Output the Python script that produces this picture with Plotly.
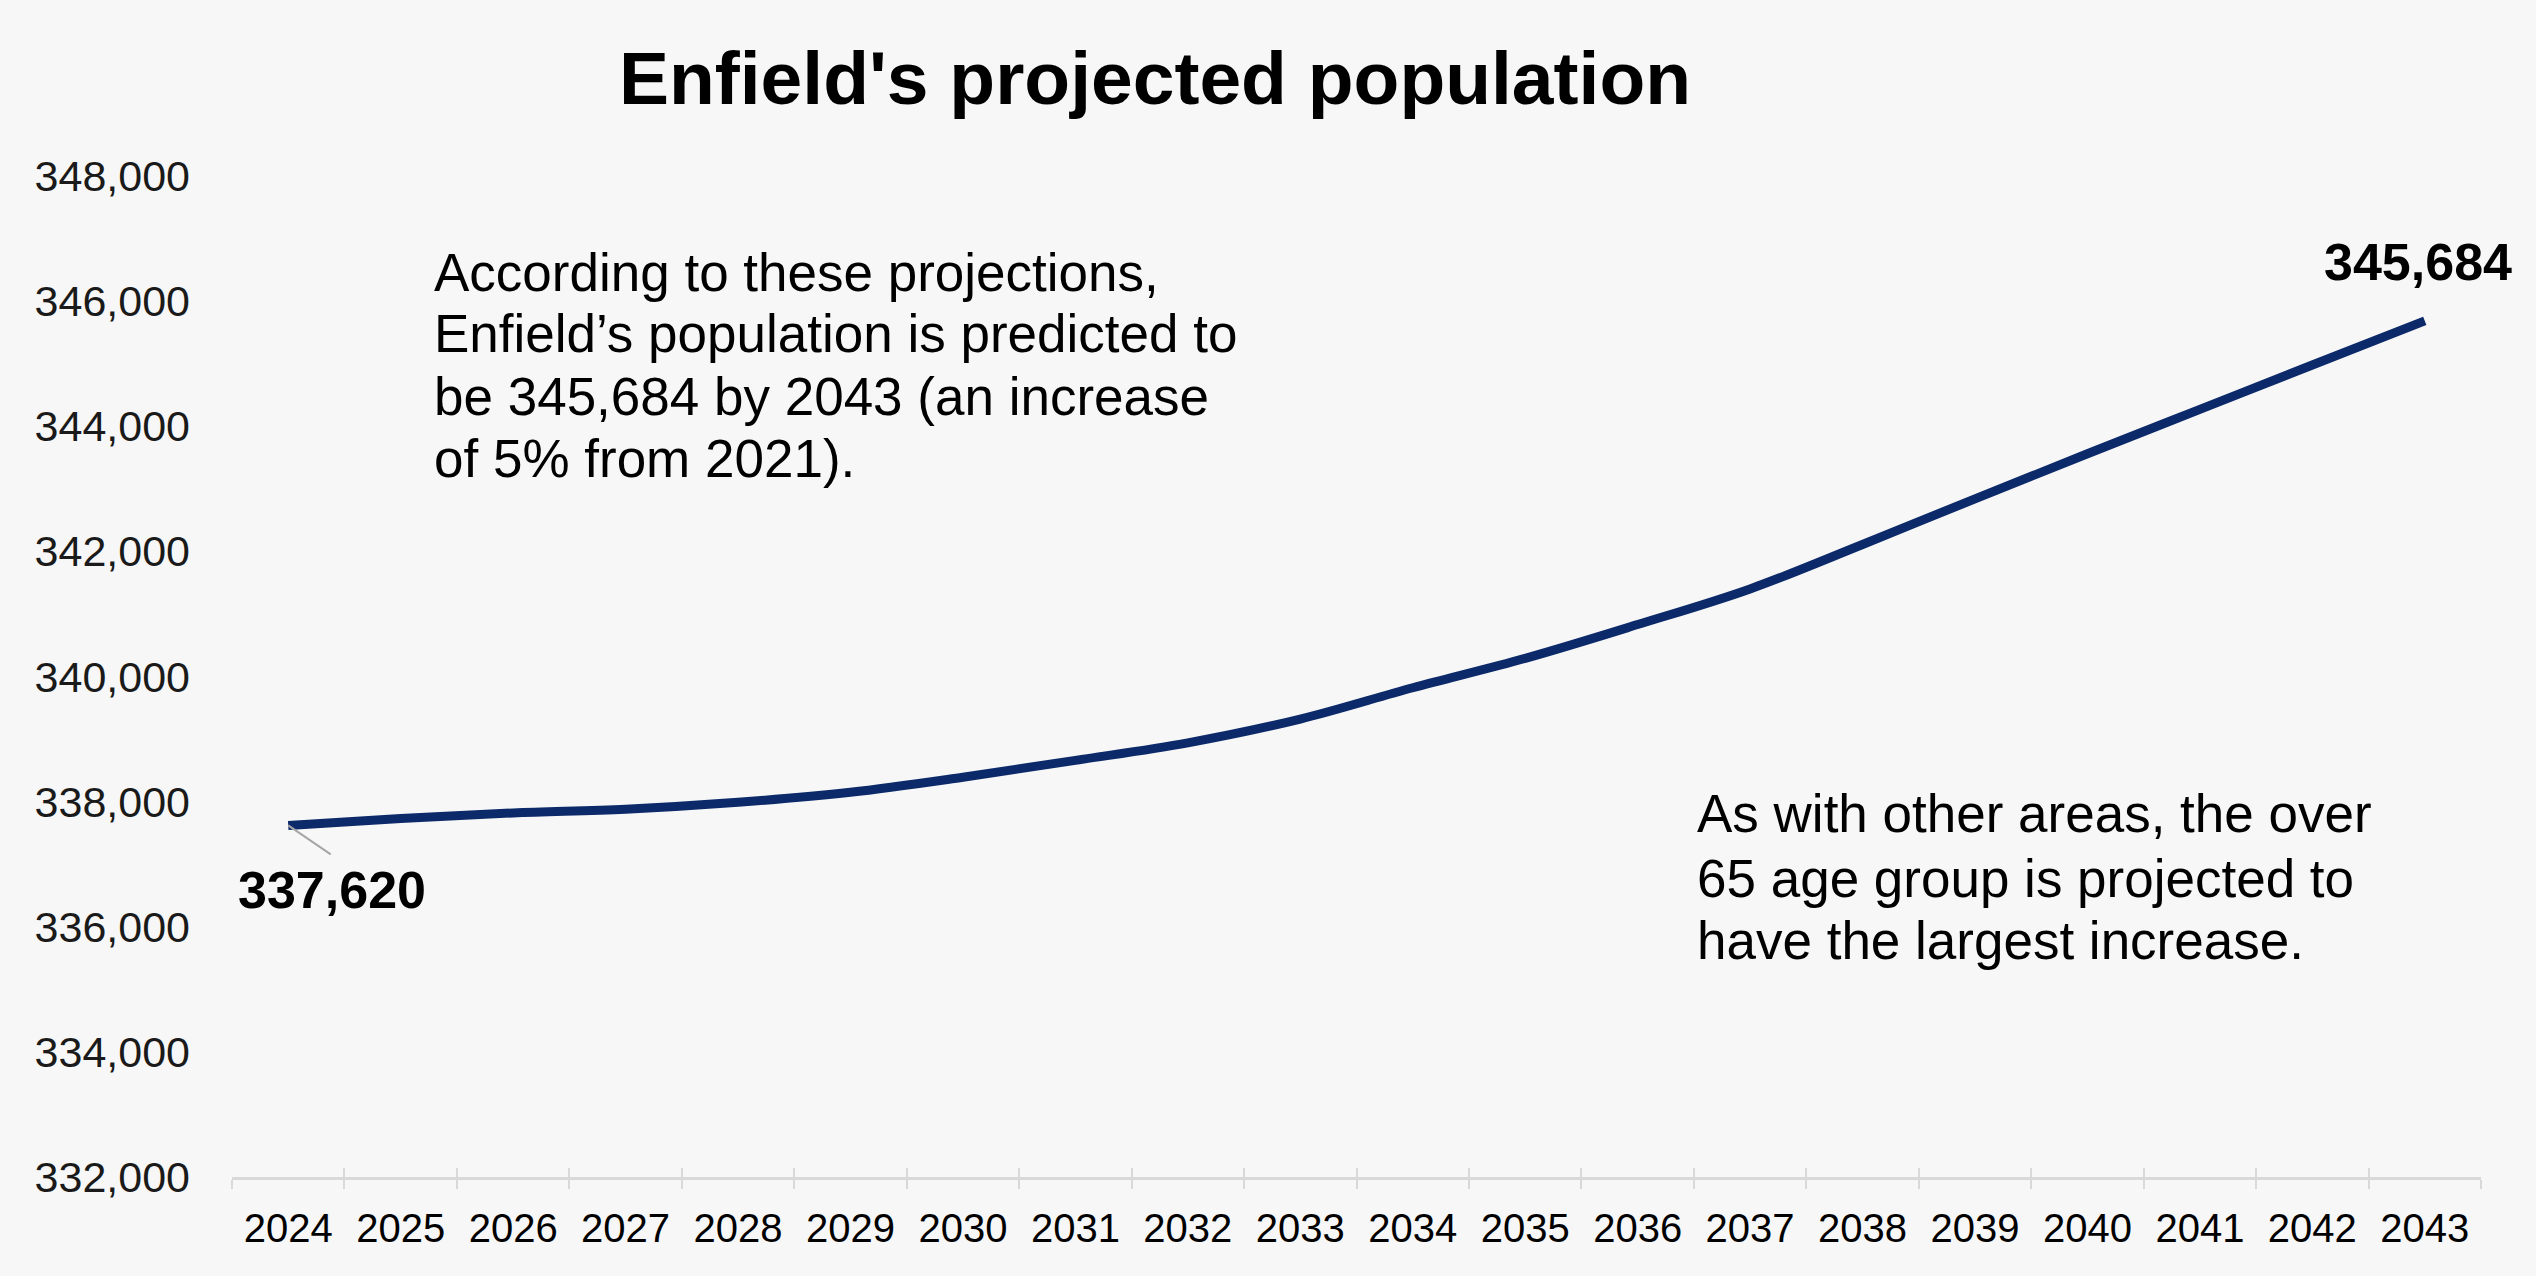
import plotly.graph_objects as go

# Projected population, Enfield
years = ["2024", "2025", "2026", "2027", "2028", "2029", "2030", "2031", "2032", "2033",
         "2034", "2035", "2036", "2037", "2038", "2039", "2040", "2041", "2042", "2043"]
population = [337620, 337730, 337820, 337880, 337990, 338150, 338390, 338660, 338940, 339320,
              339820, 340290, 340830, 341400, 342110, 342840, 343560, 344270, 344980, 345684]

y_ticks = [332000, 334000, 336000, 338000, 340000, 342000, 344000, 346000, 348000]
y_tick_text = [f"{v:,}" for v in y_ticks]

title_text = "Enfield's projected population"
note_left = [
    "According to these projections,",
    "Enfield\u2019s population is predicted to",
    "be 345,684 by 2043 (an increase",
    "of 5% from 2021).",
]
note_right = [
    "As with other areas, the over",
    "65 age group is projected to",
    "have the largest increase.",
]

BG = "#f7f7f7"
LINE = "#0c2a6a"
AXIS = "#d9d9d9"
FONT = "Liberation Sans, Arial, sans-serif"

W, H = 2536, 1276
ML, MR, MT, MB = 232, 55, 176, 99
plot_w = W - ML - MR
plot_h = H - MT - MB


def px_x(x):
    return (x - ML) / plot_w


def px_y(y):
    return (H - MB - y) / plot_h


fig = go.Figure()
fig.add_trace(go.Scatter(
    x=years, y=population, mode="lines",
    line=dict(color=LINE, width=9, shape="spline", smoothing=1.0),
    hoverinfo="x+y", showlegend=False,
))
# companion trace on the overlay axis that carries the upward half of the tick marks
fig.add_trace(go.Scatter(
    x=years, y=population, mode="lines", xaxis="x2",
    line=dict(color="rgba(0,0,0,0)", width=0),
    hoverinfo="skip", showlegend=False,
))

xaxis_common = dict(
    type="category", categoryorder="array", categoryarray=years,
    range=[-0.5, len(years) - 0.5],
    tickson="boundaries", tickcolor=AXIS, tickwidth=2,
    showgrid=False, zeroline=False,
)

fig.update_layout(
    width=W, height=H,
    margin=dict(l=ML, r=MR, t=MT, b=MB, pad=0),
    paper_bgcolor=BG, plot_bgcolor=BG,
    font=dict(family=FONT, color="#000000"),
    title=dict(
        text=title_text, x=px_x(1155), xref="paper", xanchor="center",
        y=1 - 78 / H, yref="container", yanchor="middle",
        font=dict(family=FONT, size=75, weight="bold", color="#000000"),
    ),
    xaxis=dict(
        **xaxis_common,
        showline=True, linecolor=AXIS, linewidth=3,
        ticks="outside", ticklen=9,
        tickfont=dict(family=FONT, size=40, color="#000000"),
        ticklabelstandoff=14,
    ),
    xaxis2=dict(
        **xaxis_common,
        overlaying="x", anchor="y", side="bottom",
        showline=False, ticks="inside", ticklen=9, showticklabels=False,
    ),
    yaxis=dict(
        range=[y_ticks[0], y_ticks[-1]],
        tickvals=y_ticks, ticktext=y_tick_text,
        showgrid=False, zeroline=False, showline=False, ticks="",
        tickfont=dict(family=FONT, size=43, color="#1a1a1a"),
        ticklabelstandoff=41,
    ),
    hovermode="closest",
)

annotations = []
# value labels at the two ends of the series (category positions by index)
first_i, last_i = 0, len(years) - 1
# thin grey leader from the first point towards its label
annotations.append(dict(
    x=first_i, y=population[first_i], xref="x", yref="y",
    text="", showarrow=True, arrowhead=0, standoff=0,
    arrowwidth=2, arrowcolor="#a6a6a6", ax=44, ay=30,
))
annotations.append(dict(
    x=first_i, y=population[first_i], xref="x", yref="y",
    text=f"{population[first_i]:,}", showarrow=False,
    xshift=44, yshift=-65,
    font=dict(family=FONT, size=52, weight="bold", color="#000000"),
))
annotations.append(dict(
    x=last_i, y=population[last_i], xref="x", yref="y",
    text=f"{population[last_i]:,}", showarrow=False,
    xshift=-7, yshift=59,
    font=dict(family=FONT, size=52, weight="bold", color="#000000"),
))

# commentary text blocks, one annotation per line
for line, ypx in zip(note_left, [272, 333, 396, 458]):
    annotations.append(dict(
        x=px_x(432), y=px_y(ypx), xref="paper", yref="paper",
        xanchor="left", yanchor="middle", text=line, showarrow=False,
        font=dict(family=FONT, size=53, color="#000000"),
    ))
for line, ypx in zip(note_right, [813, 878, 940]):
    annotations.append(dict(
        x=px_x(1695), y=px_y(ypx), xref="paper", yref="paper",
        xanchor="left", yanchor="middle", text=line, showarrow=False,
        font=dict(family=FONT, size=53, color="#000000"),
    ))

fig.update_layout(annotations=annotations)

fig.write_html("out.html", include_plotlyjs=True, config={"displayModeBar": False})
